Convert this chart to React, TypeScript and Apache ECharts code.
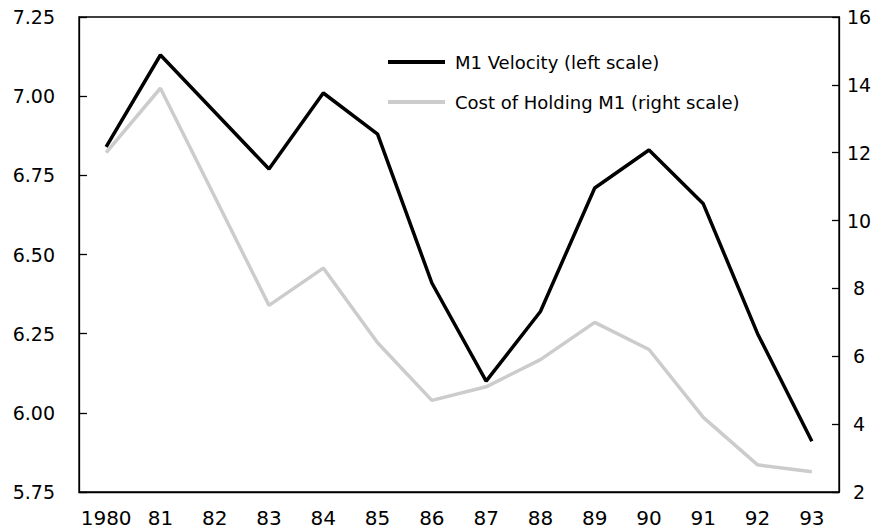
import React, { useEffect, useRef } from "react";
import * as echarts from "echarts";

const years = ["1980", "81", "82", "83", "84", "85", "86", "87", "88", "89", "90", "91", "92", "93"];
const velocity = [6.84, 7.13, 6.95, 6.77, 7.01, 6.88, 6.41, 6.1, 6.32, 6.71, 6.83, 6.66, 6.25, 5.91];
const cost = [12.0, 13.9, 10.7, 7.5, 8.6, 6.4, 4.7, 5.1, 5.9, 7.0, 6.2, 4.2, 2.8, 2.6];
const velocityName = "M1 Velocity (left scale)";
const costName = "Cost of Holding M1 (right scale)";

const FONT = "DejaVu Sans";

export default function App() {
  const ref = useRef<HTMLDivElement>(null);
  useEffect(() => {
    if (!ref.current) return;
    const chart = echarts.init(ref.current, undefined, { renderer: "svg" });
    chart.setOption({
      animation: false,
      backgroundColor: "#ffffff",
      grid: {
        left: 79,
        right: 42,
        top: 17,
        bottom: 39,
        show: true,
        borderColor: "#000",
        borderWidth: 1.3,
      },
      legend: {
        orient: "vertical",
        left: 383,
        top: 47,
        icon: "rect",
        itemWidth: 57,
        itemHeight: 4,
        itemGap: 20,
        data: [velocityName, costName],
        textStyle: {
          fontFamily: FONT,
          fontSize: 18,
          color: "#000",
          lineHeight: 20,
          padding: [0, 0, 0, 5],
        },
      },
      xAxis: {
        type: "category",
        data: years,
        boundaryGap: true,
        axisLine: { lineStyle: { color: "#000", width: 1.3 } },
        axisTick: { inside: true, length: 8, alignWithLabel: true, lineStyle: { color: "#000", width: 1.3 } },
        axisLabel: { fontFamily: FONT, fontSize: 20, color: "#000", margin: 16, interval: 0 },
        splitLine: { show: false },
      },
      yAxis: [
        {
          type: "value",
          min: 5.75,
          max: 7.25,
          interval: 0.25,
          position: "left",
          axisLine: { show: true, lineStyle: { color: "#000", width: 1.3 } },
          axisTick: { show: true, inside: true, length: 8, lineStyle: { color: "#000", width: 1.3 } },
          axisLabel: {
            fontFamily: FONT,
            fontSize: 19,
            color: "#000",
            margin: 24,
            formatter: (v: number) => v.toFixed(2),
          },
          splitLine: { show: false },
        },
        {
          type: "value",
          min: 2,
          max: 16,
          interval: 2,
          position: "right",
          axisLine: { show: true, lineStyle: { color: "#000", width: 1.3 } },
          axisTick: { show: true, inside: true, length: 7, lineStyle: { color: "#000", width: 1.3 } },
          axisLabel: {
            fontFamily: FONT,
            fontSize: 19,
            color: "#000",
            margin: 20,
            align: "center",
          },
          splitLine: { show: false },
        },
      ],
      series: [
        {
          name: costName,
          type: "line",
          yAxisIndex: 1,
          data: cost,
          symbol: "none",
          color: "#cccccc",
          lineStyle: { color: "#cccccc", width: 3.5 },
          z: 2,
        },
        {
          name: velocityName,
          type: "line",
          yAxisIndex: 0,
          data: velocity,
          symbol: "none",
          color: "#000000",
          lineStyle: { color: "#000000", width: 3.5 },
          z: 3,
        },
      ],
    });
    return () => chart.dispose();
  }, []);
  return (
    <div
      ref={ref}
      style={{ position: "fixed", left: 0, top: 0, width: 881, height: 531 }}
    />
  );
}
